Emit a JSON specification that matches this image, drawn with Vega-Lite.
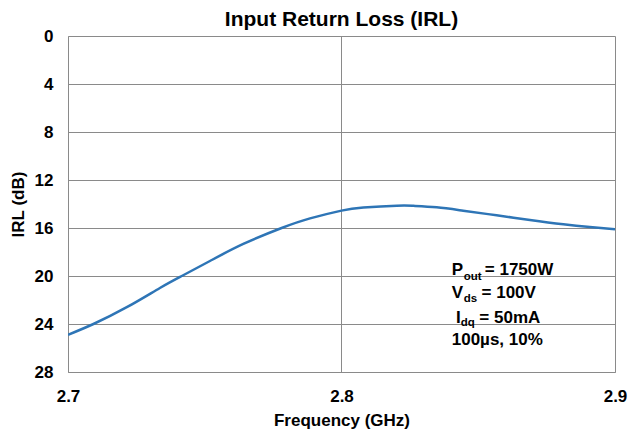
{
  "$schema": "https://vega.github.io/schema/vega-lite/v6.json",
  "width": 547,
  "height": 336,
  "autosize": "none",
  "padding": {"left": 68, "top": 36, "right": 14, "bottom": 62},
  "background": "white",
  "config": {
    "view": {"stroke": null},
    "font": "Liberation Sans"
  },
  "title": {
    "text": "Input Return Loss (IRL)",
    "font": "Liberation Sans",
    "fontSize": 21,
    "fontWeight": "bold",
    "color": "#000000",
    "anchor": "middle",
    "offset": -3
  },
  "datasets": {
    "irl": [
      {"freq": 2.7, "irl": 24.9},
      {"freq": 2.7093, "irl": 24.0},
      {"freq": 2.7215, "irl": 22.6},
      {"freq": 2.7336, "irl": 21.0},
      {"freq": 2.7416, "irl": 20.0},
      {"freq": 2.7519, "irl": 18.75},
      {"freq": 2.7641, "irl": 17.33},
      {"freq": 2.7781, "irl": 16.0},
      {"freq": 2.7885, "irl": 15.2},
      {"freq": 2.8, "irl": 14.55},
      {"freq": 2.808, "irl": 14.3},
      {"freq": 2.8202, "irl": 14.14},
      {"freq": 2.8263, "irl": 14.15},
      {"freq": 2.8348, "irl": 14.28},
      {"freq": 2.8445, "irl": 14.56},
      {"freq": 2.8567, "irl": 14.94},
      {"freq": 2.8689, "irl": 15.33},
      {"freq": 2.8811, "irl": 15.69},
      {"freq": 2.8908, "irl": 15.92},
      {"freq": 2.9, "irl": 16.1}
    ],
    "notes": [
      {"label": "P", "freq": 2.8403, "irl": 19.92},
      {"label": "= 1750W", "freq": 2.8524, "irl": 19.92},
      {"label": "V", "freq": 2.8403, "irl": 21.86},
      {"label": "= 100V", "freq": 2.8512, "irl": 21.86},
      {"label": "I", "freq": 2.8419, "irl": 23.94},
      {"label": "= 50mA", "freq": 2.8504, "irl": 23.94},
      {"label": "100µs, 10%", "freq": 2.8403, "irl": 25.75}
    ],
    "subs": [
      {"label": "out", "freq": 2.8447, "irl": 20.33},
      {"label": "ds", "freq": 2.8447, "irl": 22.14},
      {"label": "dq", "freq": 2.8436, "irl": 24.17}
    ]
  },
  "layer": [
    {
      "data": {"name": "irl"},
      "mark": {"type": "line", "color": "#2e75b6", "strokeWidth": 2.5, "interpolate": "natural", "clip": true},
      "encoding": {
        "x": {
          "field": "freq", "type": "quantitative",
          "scale": {"domain": [2.7, 2.9], "nice": false, "zero": false},
          "axis": {
            "title": "Frequency (GHz)",
            "values": [2.7, 2.8, 2.9],
            "format": ".1f",
            "grid": true, "gridColor": "#8a8a8a", "gridWidth": 1,
            "domain": true, "domainColor": "#8a8a8a", "domainWidth": 1,
            "ticks": false,
            "labelFlush": false,
            "labelFont": "Liberation Sans", "labelFontSize": 17, "labelFontWeight": "bold", "labelColor": "#000000",
            "labelPadding": 16,
            "titleFont": "Liberation Sans", "titleFontSize": 17, "titleFontWeight": "bold", "titleColor": "#000000",
            "titlePadding": 8
          }
        },
        "y": {
          "field": "irl", "type": "quantitative",
          "scale": {"domain": [0, 28], "reverse": true, "nice": false},
          "axis": {
            "title": "IRL (dB)",
            "values": [0, 4, 8, 12, 16, 20, 24, 28],
            "grid": true, "gridColor": "#8a8a8a", "gridWidth": 1,
            "domain": true, "domainColor": "#8a8a8a", "domainWidth": 1,
            "ticks": false,
            "labelFlush": false,
            "labelFont": "Liberation Sans", "labelFontSize": 17, "labelFontWeight": "bold", "labelColor": "#000000",
            "labelPadding": 15,
            "titleFont": "Liberation Sans", "titleFontSize": 17, "titleFontWeight": "bold", "titleColor": "#000000",
            "titlePadding": 7
          }
        }
      }
    },
    {
      "mark": {"type": "rect", "fill": "white", "stroke": null},
      "encoding": {
        "x": {"datum": 2.8378, "type": "quantitative"},
        "x2": {"datum": 2.8894},
        "y": {"datum": 18.5, "type": "quantitative"},
        "y2": {"datum": 26.3}
      }
    },
    {
      "data": {"name": "notes"},
      "mark": {"type": "text", "align": "left", "baseline": "alphabetic", "font": "Liberation Sans", "fontSize": 17, "fontWeight": "bold", "color": "#000000"},
      "encoding": {
        "x": {"field": "freq", "type": "quantitative"},
        "y": {"field": "irl", "type": "quantitative"},
        "text": {"field": "label"}
      }
    },
    {
      "data": {"name": "subs"},
      "mark": {"type": "text", "align": "left", "baseline": "alphabetic", "font": "Liberation Sans", "fontSize": 11.5, "fontWeight": "bold", "color": "#000000"},
      "encoding": {
        "x": {"field": "freq", "type": "quantitative"},
        "y": {"field": "irl", "type": "quantitative"},
        "text": {"field": "label"}
      }
    }
  ]
}
